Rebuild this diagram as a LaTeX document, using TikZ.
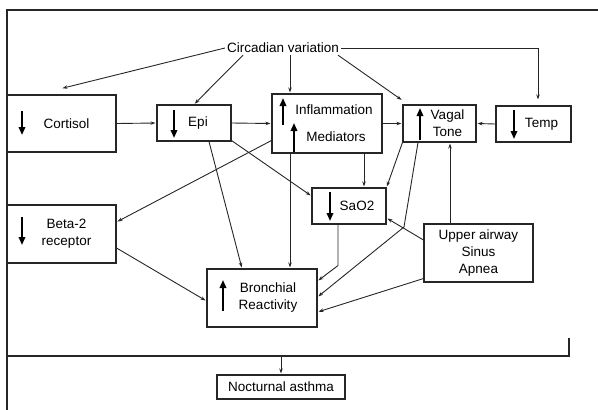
\documentclass[tikz,border=0pt]{standalone}
\usepackage{fontspec}
\setmainfont{Liberation Sans}
\usetikzlibrary{arrows.meta}

\begin{document}
\begin{tikzpicture}[x=1pt,y=-1pt,
    font=\fontsize{13.5}{17}\selectfont,
    box/.style={draw=black!85,line width=1.1pt,inner sep=0pt,align=center},
    link/.style={draw=black!85,line width=0.9pt,-{Stealth[length=5pt,width=3.5pt]},shorten >=1pt},
    updown/.style={draw=black,line width=1.8pt,-{Triangle[length=8pt,width=6.5pt]}}]
			\useasboundingbox (0,0) rectangle (598,410);
			% Cornice
			\draw[line width=1.8pt,black!85] (7,410) -- (7,10) -- (598,10);

			% Nodi
			\node[inner sep=2pt] (circ) at (283,48) {Circadian variation};

			\node[box,minimum width=109pt,minimum height=57pt] (cort) at (61.5,123.5) {\hspace*{10pt}Cortisol};
			\node[box,minimum width=74pt,minimum height=36pt] (epi) at (194,123) {\hspace*{8pt}Epi};
			\node[box,minimum width=110pt,minimum height=59pt] (infl) at (327,123.5) {\hspace*{14pt}Inflammation\\[10pt]\hspace*{18pt}Mediators};
			\node[box,minimum width=73pt,minimum height=37pt] (vagal) at (439.5,123.5) {\hspace*{16pt}Vagal\\\hspace*{16pt}Tone};
			\node[box,minimum width=75pt,minimum height=36pt] (temp) at (533.5,124) {\hspace*{16pt}Temp};

			\node[box,minimum width=74pt,minimum height=36pt] (sao) at (349,206) {\hspace*{16pt}SaO2};
			\node[box,minimum width=109pt,minimum height=58pt] (beta) at (61.5,234) {\hspace*{10pt}Beta-2\\\hspace*{10pt}receptor};
			\node[box,minimum width=110pt,minimum height=58pt] (bron) at (262,298) {\hspace*{12pt}Bronchial\\\hspace*{12pt}Reactivity};
			\node[box,minimum width=109pt,minimum height=58pt] (upper) at (478.5,253) {Upper airway\\Sinus\\Apnea};

			\node[box,minimum width=128pt,minimum height=24pt] (noct) at (281,387) {Nocturnal asthma};

			% Frecce nei riquadri
			\draw[updown] (22,111) -- (22,135);
			\draw[updown] (174,110) -- (174,138);
			\draw[updown] (283,125) -- (283,98);
			\draw[updown] (294,152) -- (294,123);
			\draw[updown] (420,140) -- (420,108);
			\draw[updown] (514,110) -- (514,139);
			\draw[updown] (330,192) -- (330,221);
			\draw[updown] (22,217) -- (22,245);
			\draw[updown] (223,311) -- (223,280);

			% Collegamenti
			\draw[link] (circ.west) -- ([yshift=6pt]cort.north);
			\draw[link] ([xshift=-40pt]circ.south) -- (epi.north);
			\draw[link] ([xshift=7pt]circ.south) -- ([xshift=-37pt]infl.north);
			\draw[link] ([xshift=55pt]circ.south) -- ([yshift=4pt]vagal.north west);
			\draw[link] (circ.east) -| ([xshift=4.5pt,yshift=5pt]temp.north);

			\draw[link] (cort.east) -- (epi.west);
			\draw[link] (epi.east) -- (infl.west);
			\draw[link] (infl.east) -- (vagal.west);
			\draw[link] (temp.west) -- (vagal.east);

			\draw[link] ([xshift=37pt]infl.south) -- ([xshift=15pt]sao.north);
			\draw[link] (vagal.south west) -- (sao.north east);
			\draw[link] ([yshift=1pt]epi.south east) -- ([yshift=10pt]sao.west);
			\draw[link] ([yshift=-17pt]infl.west) -- ([yshift=12pt]beta.east);

			\draw[link] ([xshift=15pt]epi.south) -- ([xshift=-20pt]bron.north);
			\draw[link] ([xshift=-37pt]infl.south) -- ([xshift=28pt]bron.north);
			\draw[link] ([yshift=-14pt]beta.east) -- ([yshift=-3pt]bron.west);
			\draw[link] ([xshift=-11pt]sao.south) -- ++(0,41) -- ([yshift=17pt]bron.east);
			\draw[link] ([xshift=-21.5pt]vagal.south) -- (404,227) -- ([yshift=1pt]bron.east);

			\draw[link] ([xshift=-28.5pt]upper.north) -- ([xshift=10.5pt]vagal.south);
			\draw[link] ([yshift=13pt]upper.west) -- ([yshift=-12pt]sao.east);
			\draw[link] ([yshift=4pt]upper.south west) -- ([yshift=-14pt]bron.east);

			% Parentesi
			\draw[line width=1.1pt,black!85] (7,356) -- (569,356) -- (569,338);
			\coordinate (brk) at (281,356);
			\draw[link] (brk) -- (noct.north);

		\end{tikzpicture}
\end{document}
